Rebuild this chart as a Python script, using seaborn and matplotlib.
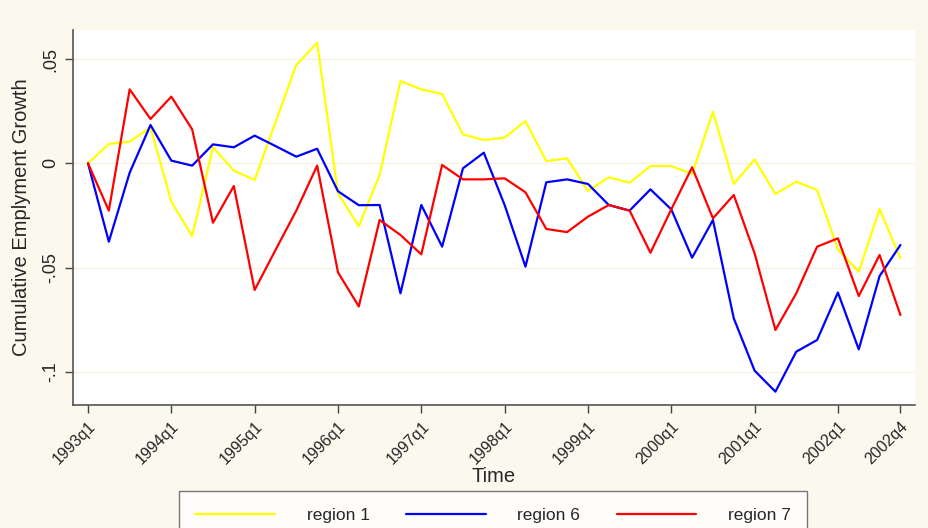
import numpy as np
import pandas as pd
import matplotlib
matplotlib.use("Agg")
import matplotlib.pyplot as plt
import seaborn as sns

# quarters 1993q1 .. 2002q4
quarters = [f"{y}q{q}" for y in range(1993, 2003) for q in range(1, 5)]

region1 = [0.0, 0.0093, 0.0104, 0.0173, -0.0184, -0.0349, 0.0077, -0.0035,
           -0.0080, 0.0197, 0.0472, 0.0579, -0.0144, -0.0302, -0.0056, 0.0395,
           0.0355, 0.0333, 0.0139, 0.0112, 0.0123, 0.0203, 0.0011, 0.0024,
           -0.0133, -0.0067, -0.0093, -0.0013, -0.0013, -0.0051, 0.0248, -0.0099,
           0.0019, -0.0147, -0.0088, -0.0128, -0.0413, -0.0520, -0.0219, -0.0456]

region6 = [0.0, -0.0376, -0.0045, 0.0184, 0.0013, -0.0011, 0.0091, 0.0077,
           0.0133, 0.0083, 0.0032, 0.0070, -0.0134, -0.0201, -0.0200, -0.0624,
           -0.0200, -0.0400, -0.0024, 0.0051, -0.0200, -0.0496, -0.0091, -0.0077,
           -0.0099, -0.0200, -0.0227, -0.0125, -0.0221, -0.0453, -0.0272, -0.0744,
           -0.0995, -0.1096, -0.0904, -0.0848, -0.0620, -0.0893, -0.0541, -0.0392]

region7 = [0.0, -0.0227, 0.0355, 0.0213, 0.0320, 0.0163, -0.0285, -0.0109,
           -0.0608, -0.0416, -0.0227, -0.0011, -0.0523, -0.0687, -0.0272, -0.0344,
           -0.0437, -0.0008, -0.0077, -0.0077, -0.0072, -0.0139, -0.0315, -0.0330,
           -0.0256, -0.0200, -0.0227, -0.0429, -0.0221, -0.0019, -0.0264, -0.0152,
           -0.0432, -0.0800, -0.0624, -0.0400, -0.0360, -0.0637, -0.0440, -0.0728]

series_names = ["region 1", "region 6", "region 7"]
tick_labels = ["1993q1", "1994q1", "1995q1", "1996q1", "1997q1", "1998q1",
               "1999q1", "2000q1", "2001q1", "2002q1", "2002q4"]
y_ticks = [0.05, 0.0, -0.05, -0.1]
y_tick_labels = [".05", "0", "-.05", "-.1"]

idx = np.arange(len(quarters))
df = pd.DataFrame({
    "t": np.tile(idx, 3),
    "value": region1 + region6 + region7,
    "region": np.repeat(series_names, len(quarters)),
})

sns.set_theme(style="white")
plt.rcParams["font.family"] = ["Liberation Sans", "DejaVu Sans"]

bg = "#FBF8EE"
fig = plt.figure(figsize=(9.29, 5.28), dpi=100, facecolor=bg)
ax = fig.add_axes([73 / 929, 1 - 405 / 528, (915 - 73) / 929, (405 - 30) / 528])
ax.set_facecolor("white")

palette = {"region 1": "#FFFF00", "region 6": "#0000FF", "region 7": "#FF0000"}
sns.lineplot(data=df, x="t", y="value", hue="region", palette=palette,
             linewidth=1.6, ax=ax, legend=False)

ax.set_xlim(-0.72, 39.7)
ax.set_ylim(-0.116, 0.064)

tick_pos = [quarters.index(t) for t in tick_labels]
ax.set_xticks(tick_pos)
ax.set_xticklabels(tick_labels, rotation=45, ha="right", rotation_mode="anchor",
                   fontsize=11.5)
ax.set_yticks(y_ticks)
ax.set_yticklabels(y_tick_labels, rotation=90, va="center", fontsize=13)
ax.tick_params(axis="both", direction="out", length=6, width=1, color="#444444",
               bottom=True, left=True, pad=4)

for y in y_ticks:
    ax.axhline(y, color="#F6F1E2", linewidth=1.0, zorder=0)

for s in ["top", "right"]:
    ax.spines[s].set_visible(False)
for s in ["left", "bottom"]:
    ax.spines[s].set_color("#555555")
    ax.spines[s].set_linewidth(1.2)

ax.set_xlabel("Time", fontsize=14.5, labelpad=0)
ax.set_ylabel("Cumulative Emplyment Growth", fontsize=14.5, labelpad=8)

handles = [plt.Line2D([], [], color=palette[n], linewidth=1.6) for n in series_names]
leg = fig.legend(handles, series_names, loc="upper center",
                 bbox_to_anchor=(493 / 929, 1 - 491 / 528), ncol=3,
                 frameon=True, fancybox=False, edgecolor="#555555",
                 facecolor="white", fontsize=12.5, handlelength=4.6,
                 columnspacing=2.1, handletextpad=1.8, borderpad=0.95,
                 borderaxespad=0.0)
leg.get_frame().set_linewidth(1.0)

fig.savefig("out.png", dpi=100, facecolor=bg)
